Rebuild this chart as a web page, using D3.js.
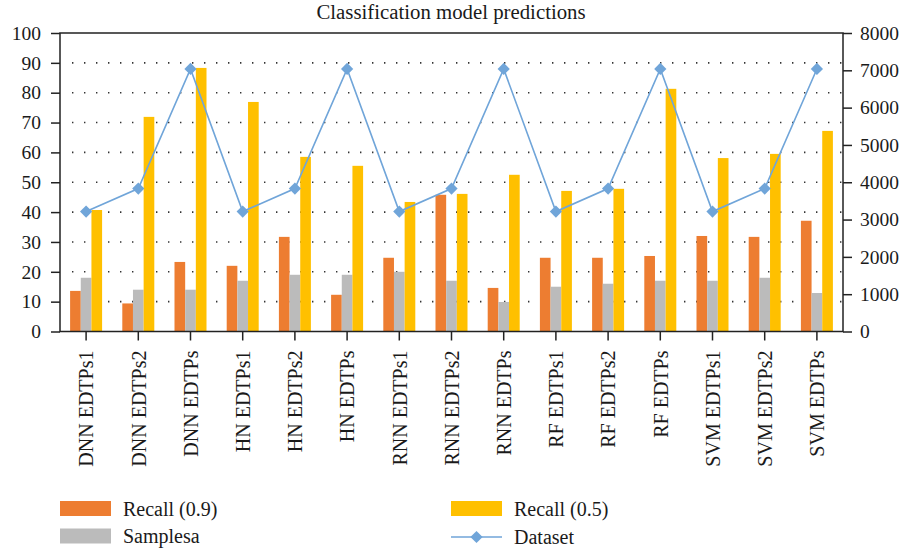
<!DOCTYPE html>
<html>
<head>
<meta charset="utf-8">
<script src="https://cdn.jsdelivr.net/npm/d3@7"></script>
<style>
  html, body { margin: 0; padding: 0; background: #fff; }
  svg { display: block; }
  text { font-family: "Liberation Serif", "DejaVu Serif", serif; fill: #1a1a1a; }
</style>
</head>
<body>
<svg id="chart" width="903" height="550"></svg>
<script>
const categories = ["DNN EDTPs1","DNN EDTPs2","DNN EDTPs","HN EDTPs1","HN EDTPs2","HN EDTPs",
  "RNN EDTPs1","RNN EDTPs2","RNN EDTPs","RF EDTPs1","RF EDTPs2","RF EDTPs",
  "SVM EDTPs1","SVM EDTPs2","SVM EDTPs"];
const recall09 = [13.6, 9.4, 23.3, 22.0, 31.7, 12.3, 24.7, 45.8, 14.6, 24.7, 24.7, 25.3, 32.0, 31.7, 37.1];
const samplesa = [18, 14, 14, 17, 19, 19, 20, 17, 9.9, 15, 16, 17, 17, 18, 12.9];
const recall05 = [40.7, 71.9, 88.3, 76.9, 58.5, 55.5, 43.4, 46.1, 52.5, 47.1, 47.8, 81.3, 58.1, 59.5, 67.2];
const dataset  = [3214, 3830, 7036, 3214, 3830, 7036, 3214, 3830, 7036, 3214, 3830, 7036, 3214, 3830, 7036];
const leftTicks = [0,10,20,30,40,50,60,70,80,90,100];
const rightTicks = [0,1000,2000,3000,4000,5000,6000,7000,8000];
const seriesNames = ["Recall (0.9)", "Samplesa", "Recall (0.5)", "Dataset"];
const title = "Classification model predictions";

const colors = { r09: "#ED7D31", samp: "#BBBBBB", r05: "#FFC000", line: "#70A5D9" };

const svg = d3.select("#chart");
const L = 60, R = 843, T = 33, B = 331.5;

const pad = 0.387;
const x = d3.scaleBand().domain(categories).range([L, R]).paddingInner(pad).paddingOuter(pad / 2);
const xs = d3.scaleBand().domain(["r09","samp","r05"]).range([0, x.bandwidth()]);
const y = d3.scaleLinear().domain([0, 100]).range([B, T]);
const y2 = d3.scaleLinear().domain([0, 8000]).range([B, T]);

// title
svg.append("text").attr("x", 451).attr("y", 19).attr("text-anchor", "middle")
  .style("font-size", "20.8px").text(title);

// dotted gridlines
svg.append("g").selectAll("line").data(leftTicks.filter(d => d > 0 && d < 100)).join("line")
  .attr("x1", L + 12).attr("x2", R).attr("y1", d => y(d)).attr("y2", d => y(d))
  .attr("stroke", "#333").attr("stroke-width", 1.6).attr("stroke-dasharray", "1.4,10.6");

// bars
const groups = svg.append("g").selectAll("g").data(categories).join("g")
  .attr("transform", d => `translate(${x(d)},0)`);
const barData = (i) => [
  {k: "r09", v: recall09[i], c: colors.r09},
  {k: "samp", v: samplesa[i], c: colors.samp},
  {k: "r05", v: recall05[i], c: colors.r05}];
groups.selectAll("rect").data((d, i) => barData(i)).join("rect")
  .attr("x", d => xs(d.k)).attr("width", xs.bandwidth())
  .attr("y", d => y(d.v)).attr("height", d => B - y(d.v)).attr("fill", d => d.c);

// axes
const axL = svg.append("g").attr("transform", `translate(${L},0)`)
  .call(d3.axisLeft(y).tickValues(leftTicks).tickSize(9).tickPadding(10));
const axR = svg.append("g").attr("transform", `translate(${R},0)`)
  .call(d3.axisRight(y2).tickValues(rightTicks).tickFormat(d3.format("d")).tickSize(9).tickPadding(8));
const axB = svg.append("g").attr("transform", `translate(0,${B})`)
  .call(d3.axisBottom(x).tickSize(9).tickSizeOuter(0).tickPadding(10));
[axL, axR, axB].forEach(a => {
  a.selectAll("path.domain").remove();
  a.selectAll("line").attr("stroke", "#222").attr("stroke-width", 1.5);
  a.selectAll("text").style("font-family", "'Liberation Serif', serif").style("font-size", "19.5px").attr("fill", "#1a1a1a");
});
axB.selectAll("text").attr("transform", "rotate(-90)")
  .attr("text-anchor", "end").attr("x", -19).attr("y", 0).attr("dy", "0.36em")
  .style("font-size", "20px");

// frame
svg.append("rect").attr("x", L).attr("y", T).attr("width", R - L).attr("height", B - T)
  .attr("fill", "none").attr("stroke", "#222").attr("stroke-width", 1.5);

// line
const cx = d => x(d) + x.bandwidth() / 2;
svg.append("path").datum(categories)
  .attr("d", d3.line().x(d => cx(d)).y((d, i) => y2(dataset[i])))
  .attr("fill", "none").attr("stroke", colors.line).attr("stroke-width", 1.6);
const diamond = d3.symbol().type(d3.symbolSquare).size(75);
svg.append("g").selectAll("path").data(categories).join("path")
  .attr("d", diamond())
  .attr("transform", (d, i) => `translate(${cx(d)},${y2(dataset[i])}) rotate(45)`)
  .attr("fill", colors.line);

// legend
const leg = svg.append("g");
const legItems = [
  {name: seriesNames[0], type: "rect", c: colors.r09, x: 60, y: 508.5},
  {name: seriesNames[1], type: "rect", c: colors.samp, x: 60, y: 536},
  {name: seriesNames[2], type: "rect", c: colors.r05, x: 451, y: 508.5},
  {name: seriesNames[3], type: "line", c: colors.line, x: 451, y: 537}
];
legItems.forEach(it => {
  if (it.type === "rect") {
    leg.append("rect").attr("x", it.x).attr("y", it.y - 7.5).attr("width", 51).attr("height", 15).attr("fill", it.c);
  } else {
    leg.append("line").attr("x1", it.x).attr("x2", it.x + 51).attr("y1", it.y).attr("y2", it.y)
      .attr("stroke", it.c).attr("stroke-width", 1.6);
    leg.append("path").attr("d", diamond())
      .attr("transform", `translate(${it.x + 25.5},${it.y}) rotate(45)`).attr("fill", it.c);
  }
  leg.append("text").attr("x", it.x + 63).attr("y", it.y).attr("dy", "0.35em")
    .style("font-size", "20px").text(it.name);
});
</script>
</body>
</html>
